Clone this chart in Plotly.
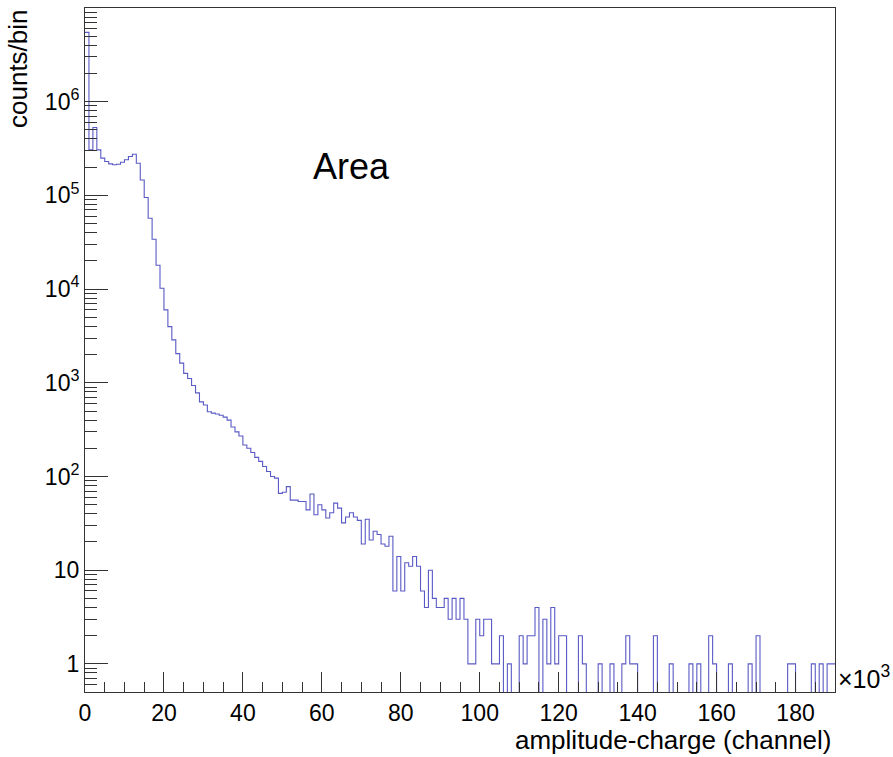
import plotly.graph_objects as go

# Histogram: bin width 1 (x10^3 channels), bins from 0 to 190
bin_width = 1.0
x_min = 0.0
counts = [
    5.5e6, 3.06e5, 5.3e5, 3.06e5, 2.5e5, 2.3e5, 2.17e5, 2.12e5, 2.15e5, 2.26e5,
    2.4e5, 2.6e5, 2.75e5, 2.2e5, 1.46e5, 9.5e4, 5.7e4, 3.4e4, 1.8e4, 1.02e4,
    6.0e3, 3.98e3, 2.87e3, 2.05e3, 1.62e3, 1.26e3, 1.11e3, 935, 780, 625,
    580, 490, 475, 465, 450, 430, 400, 338, 299, 270,
    217, 200, 180, 160, 145, 128, 113, 100, 96, 66,
    68, 78, 56, 56, 54, 54, 44, 65, 39, 50,
    44, 36, 41, 52, 46, 32, 37, 41, 37, 34,
    19, 35, 21, 26, 24, 19, 18, 23, 6, 14,
    6, 12, 11, 14, 11, 6, 4, 10, 5, 4,
    4, 5, 3, 5, 3, 5, 3, 1, 1, 3,
    2, 3, 3, 1, 1, 2, 0, 1, 0, 0,
    2, 1, 2, 2, 4, 0, 3, 1, 4, 1,
    2, 2, 0, 0, 0, 2, 1, 0, 0, 0,
    1, 0, 0, 1, 0, 0, 1, 2, 1, 1,
    0, 0, 0, 0, 2, 0, 0, 0, 1, 0,
    0, 0, 0, 1, 0, 1, 0, 0, 2, 1,
    0, 0, 0, 1, 0, 0, 0, 0, 1, 0,
    2, 0, 0, 0, 0, 0, 0, 0, 1, 1,
    0, 0, 0, 0, 1, 0, 1, 0, 1, 1,
]

y_tick_vals = [1, 10, 100, 1e3, 1e4, 1e5, 1e6]
y_tick_text = ["1", "10", "10<sup>2</sup>", "10<sup>3</sup>", "10<sup>4</sup>",
               "10<sup>5</sup>", "10<sup>6</sup>"]
x_tick_vals = [0, 20, 40, 60, 80, 100, 120, 140, 160, 180]

# step outline: left edges plus final right edge
n = len(counts)
edges = [x_min + i * bin_width for i in range(n + 1)]
floor_val = 1e-3  # empty bins are drawn below the visible frame (ROOT style)
ys = [c if c > 0 else floor_val for c in counts]
ys = ys + [ys[-1]]

# all tick positions (short ticks), labels only at the major ones
x_all = [5 * k for k in range(0, 39)]
x_all_text = [str(v) if v in x_tick_vals else "" for v in x_all]
y_all = []
for e in range(-1, 7):
    for m in range(1, 10):
        v = m * 10 ** e
        if 0.5 <= v <= 1e7:
            y_all.append(v)
y_label_map = dict(zip(y_tick_vals, y_tick_text))
y_all_text = [y_label_map.get(v, "") for v in y_all]

FONT = "Liberation Sans, Arial, Helvetica, sans-serif"
AXC = "#333333"
XR = [0, 190]
YR = [-0.3, 7.0]

fig = go.Figure()
fig.add_trace(go.Scatter(
    x=edges, y=ys, mode="lines", line=dict(shape="hv", color="#5a5ac6", width=1.1),
    showlegend=False, hoverinfo="skip",
))
# invisible helper trace so the long-tick overlay axes get drawn
fig.add_trace(go.Scatter(
    x=[XR[0]], y=[1], xaxis="x2", yaxis="y2", mode="markers",
    marker=dict(opacity=0), showlegend=False, hoverinfo="skip",
))

fig.update_layout(
    width=893, height=757,
    margin=dict(l=85, r=58, t=8, b=65),
    paper_bgcolor="white", plot_bgcolor="white",
    font=dict(family=FONT, color="black", size=23),
    showlegend=False,
    xaxis=dict(
        range=XR, showgrid=False, zeroline=False,
        showline=True, linecolor=AXC, linewidth=1, mirror=True,
        ticks="inside", ticklen=10, tickwidth=1, tickcolor=AXC,
        tickmode="array", tickvals=x_all, ticktext=x_all_text,
        tickfont=dict(size=23, family=FONT),
    ),
    xaxis2=dict(
        range=XR, overlaying="x", anchor="y", side="bottom",
        showgrid=False, zeroline=False, showline=False,
        ticks="inside", ticklen=20, tickwidth=1, tickcolor=AXC,
        tickmode="array", tickvals=x_tick_vals, showticklabels=False,
    ),
    yaxis=dict(
        type="log", range=YR, showgrid=False, zeroline=False,
        showline=True, linecolor=AXC, linewidth=1, mirror=True,
        ticks="inside", ticklen=12, tickwidth=1, tickcolor=AXC,
        tickmode="array", tickvals=y_all, ticktext=y_all_text,
        tickfont=dict(size=23, family=FONT),
    ),
    yaxis2=dict(
        type="log", range=YR, overlaying="y", anchor="x", side="left",
        showgrid=False, zeroline=False, showline=False,
        ticks="inside", ticklen=23, tickwidth=1, tickcolor=AXC,
        tickmode="array", tickvals=y_tick_vals, showticklabels=False,
    ),
)

# plot area geometry for annotation placement
L, R, T, B = 85, 835, 8, 692
def px(xp):
    return (xp - L) / (R - L)
def py(yp):
    return (B - yp) / (B - T)

fig.add_annotation(text="Area", xref="paper", yref="paper", x=px(351), y=py(167),
                   xanchor="center", yanchor="middle", showarrow=False,
                   font=dict(size=36, family=FONT, color="black"))
fig.add_annotation(text="amplitude-charge (channel)", xref="paper", yref="paper",
                   x=px(834), y=py(740), xanchor="right", yanchor="middle",
                   showarrow=False, font=dict(size=26, family=FONT, color="black"))
fig.add_annotation(text="counts/bin", xref="paper", yref="paper",
                   x=px(18), y=py(69), xanchor="center", yanchor="middle",
                   textangle=-90, showarrow=False,
                   font=dict(size=26, family=FONT, color="black"))
fig.add_annotation(text="×10<sup>3</sup>", xref="paper", yref="paper",
                   x=px(836), y=py(677), xanchor="left", yanchor="middle",
                   showarrow=False, font=dict(size=25, family=FONT, color="black"))

fig.write_html(
    "out.html",
    config={"displayModeBar": False, "staticPlot": True},
    post_script="document.body.style.margin='0px';document.body.style.overflow='hidden';",
)
